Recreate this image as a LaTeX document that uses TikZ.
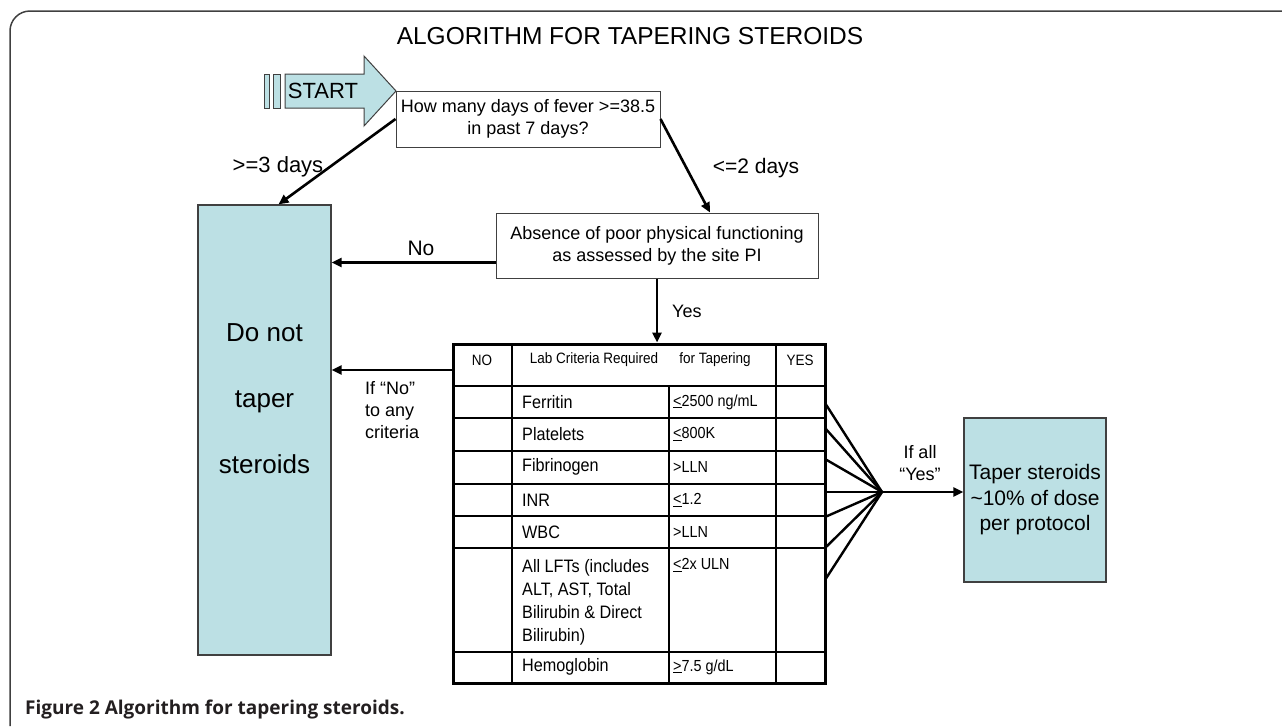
\documentclass[tikz,border=0pt]{standalone}
\usepackage{fontspec}
\setmainfont{Liberation Sans}
\newfontfamily\tabfont{Liberation Sans}[FakeStretch=0.9]
\newfontfamily\capfont{Open Sans}
\usetikzlibrary{arrows.meta,calc}

\definecolor{boxcyan}{HTML}{BCE0E4}
\definecolor{edgegray}{HTML}{404040}
\definecolor{captext}{HTML}{231F20}

\tikzset{
  qbox/.style={draw=edgegray, fill=white, line width=1pt, align=center, inner sep=0pt,
    font=\fontsize{18}{22}\selectfont},
  cyanbox/.style={draw=edgegray, fill=boxcyan, line width=1.2pt, inner sep=0pt},
  flow/.style={line width=2.6pt, -{Triangle[length=10pt,width=9pt]}},
  fan/.style={line width=2.4pt},
  grid/.style={line width=2pt},
  lbl/.style={font=\fontsize{21}{24}\selectfont, inner sep=0pt},
  small/.style={font=\fontsize{18}{22}\selectfont, inner sep=0pt},
  head/.style={font=\tabfont\fontsize{15}{18}\selectfont, inner sep=0pt},
  rowtxt/.style={font=\tabfont\fontsize{18}{23}\selectfont, inner sep=0pt, anchor=west},
  valtxt/.style={font=\tabfont\fontsize{16}{19}\selectfont, inner sep=0pt, anchor=west}
}

\begin{document}
\begin{tikzpicture}[x=1pt, y=-1pt]
\useasboundingbox (0,0) rectangle (1282,726);

% frame and caption
\draw[edgegray, line width=1.5pt, rounded corners=20pt] (10,726) -- (10,11) -- (1282,11);
\node[anchor=west, inner sep=0pt, text=captext, font=\capfont\bfseries\fontsize{19}{22}\selectfont] (caption) at (25,710) {Figure 2 Algorithm for tapering steroids.};

\node[font=\fontsize{24.5}{28}\selectfont] (title) at (630,36) {ALGORITHM FOR TAPERING STEROIDS};

% start arrow
\draw[draw=edgegray, fill=boxcyan, line width=1pt] (264,74) rectangle (269,108);
\draw[draw=edgegray, fill=boxcyan, line width=1pt] (273,74) rectangle (280,108);
\draw[draw=edgegray, fill=boxcyan, line width=1pt] (285,74) -- (364,74) -- (364,56) -- (396,91)
  -- (364,126) -- (364,108) -- (285,108) -- cycle;
\node[font=\fontsize{22}{24}\selectfont, inner sep=0pt] (start) at (323,91) {START};

% boxes
\node[qbox, minimum width=264pt, minimum height=56pt] (fever) at (528,119)
  {How many days of fever >=38.5\\in past 7 days?};
\node[qbox, minimum width=322pt, minimum height=65pt] (absence) at (657,245.5)
  {Absence of poor physical functioning\\as assessed by the site PI};
\node[cyanbox, minimum width=133pt, minimum height=450pt] (dont) at (264.5,430) {};
\node[align=center, font=\fontsize{26}{66}\selectfont] (donttxt) at (264.5,399) {Do not\\taper\\steroids};
\node[cyanbox, minimum width=142pt, minimum height=164pt, align=center,
  font=\fontsize{21}{25.5}\selectfont] (taper) at (1035,500)
  {Taper steroids\\\textasciitilde10\% of dose\\per protocol};

% criteria table
\node[draw, line width=3pt, minimum width=372pt, minimum height=339pt, inner sep=0pt] (crit) at (639,513.5) {};
\draw[grid] (512,344) -- (512,683);
\draw[grid] (669,386) -- (669,683);
\draw[grid] (776,344) -- (776,683);
\foreach \y in {386,418,451,484,516,548,652} {
\draw[grid] (453,\y) -- (825,\y);
}

\node[head] (hno) at (482,360) {NO};
\node[head] (hlab) at (594,360) {Lab Criteria Required};
\node[head] (hfor) at (715,360) {for Tapering};
\node[head] (hyes) at (800,360) {YES};

\foreach \nm/\val/\y [count=\i] in {Ferritin/{\underline{<}2500 ng/mL}/402,
  Platelets/{\underline{<}800K}/434, Fibrinogen/{>LLN}/467, INR/{\underline{<}1.2}/500,
  WBC/{>LLN}/532, Hemoglobin/{\underline{>}7.5 g/dL}/667} {
\node[rowtxt] (crit\i) at (522,\y) {\nm};
\node[valtxt] (lim\i) at (673,\y) {\val};
}
\node[rowtxt, anchor=north west, align=left] (critlft) at (522,559)
  {All LFTs (includes\\ALT, AST, Total\\Bilirubin \& Direct\\Bilirubin)};
\node[valtxt] (limlft) at (673,565) {\underline{<}2x ULN};

% connectors
\draw[flow] (fever.west) -- ([xshift=14pt]dont.north);
\draw[flow] (fever.east) -- ([xshift=53pt]absence.north);
\node[lbl, font=\fontsize{22}{24}\selectfont] (lmore) at (278,167) {>=3 days};
\node[lbl] (lless) at (756,168) {<=2 days};

\coordinate (absno) at ([yshift=-17pt]absence.west);
\draw[flow] (absno) -- (absno -| dont.east);
\node[lbl] (lno) at (421,248) {No};

\draw[flow] (absence.south) -- (absence.south |- crit.north);
\node[small, anchor=west] (lyes) at (672,311) {Yes};

\coordinate (critno) at (453,370);
\draw[flow] (critno) -- (critno -| dont.east);
\node[small, anchor=west, align=left] (lany) at (365,410) {If “No”\\to any\\criteria};

\coordinate (join) at (882,492);
\foreach \y [count=\i] in {403,428,459,492,517,548,580} {
\coordinate (fan\i) at (825,\y);
\draw[fan] (fan\i) -- (join);
}
\draw[flow] (join) -- (join -| taper.west);
\node[small, align=center] (lall) at (920,463.5) {If all\\“Yes”};

\end{tikzpicture}
\end{document}
